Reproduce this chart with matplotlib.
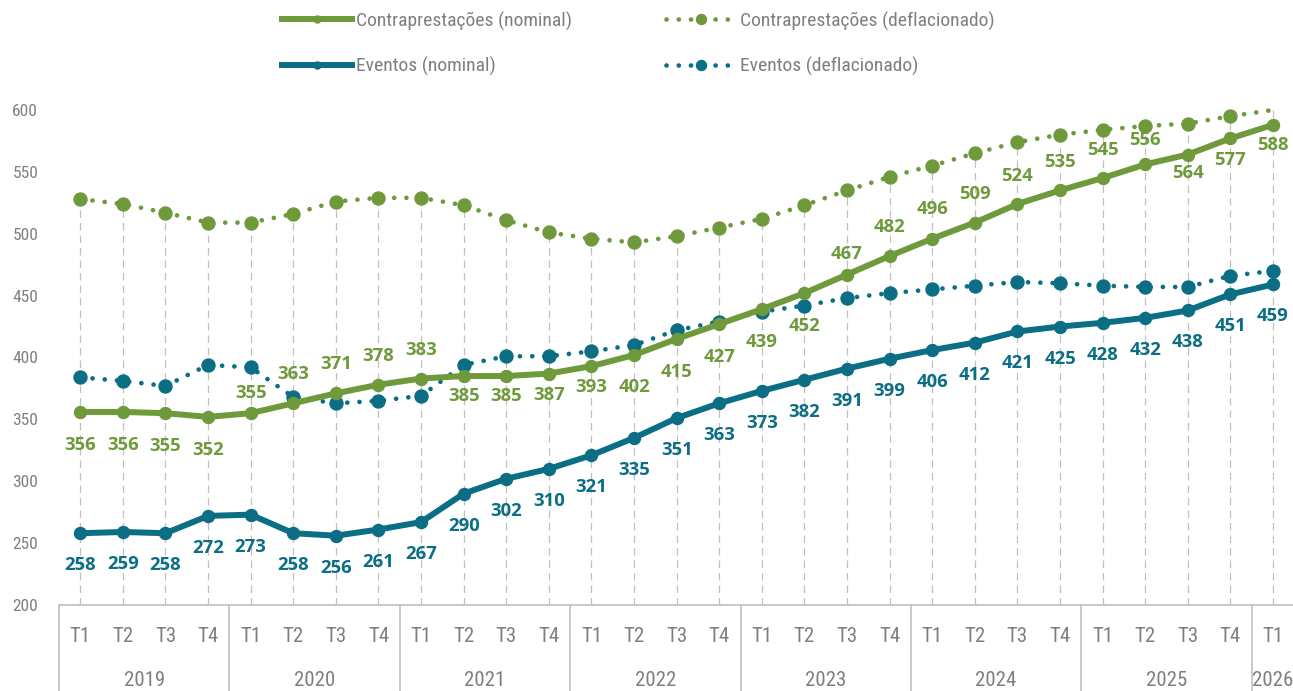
import matplotlib
matplotlib.use("Agg")
import matplotlib.pyplot as plt
from matplotlib import font_manager
from matplotlib.lines import Line2D
from matplotlib.transforms import blended_transform_factory

# ---------------- data ----------------
years = ["2019", "2020", "2021", "2022", "2023", "2024", "2025", "2026"]
quarters = ["T1", "T2", "T3", "T4"]
quarter_labels = [q for y in years[:-1] for q in quarters] + ["T1"]
year_of_point = [y for y in years[:-1] for _ in quarters] + ["2026"]

contra_nominal = [356, 356, 355, 352, 355, 363, 371, 378, 383, 385, 385, 387, 393, 402,
                  415, 427, 439, 452, 467, 482, 496, 509, 524, 535, 545, 556, 564, 577, 588]
contra_deflated = [528, 524, 517, 509, 509, 516, 526, 529, 529, 523, 511, 501, 496, 493,
                   498, 505, 512, 523, 535, 546, 555, 565, 574, 580, 584, 587, 589, 595, 600]
eventos_nominal = [258, 259, 258, 272, 273, 258, 256, 261, 267, 290, 302, 310, 321, 335,
                   351, 363, 373, 382, 391, 399, 406, 412, 421, 425, 428, 432, 438, 451, 459]
eventos_deflated = [384, 381, 377, 394, 392, 368, 363, 365, 369, 394, 401, 401, 405, 410,
                    422, 429, 437, 442, 448, 452, 455, 458, 461, 460, 458, 457, 457, 466, 470]

series_names = ["Contraprestações (nominal)", "Contraprestações (deflacionado)",
                "Eventos (nominal)", "Eventos (deflacionado)"]

# label vertical offsets (pixels, + above / - below) - styling only
contra_label_off = [-33, -33, -33, -33, 20, 29, 29, 29, 29, -20, -20, -21, -21, -32,
                    -33, -33, -33, -33, 21, 29, 30, 29, 28, 28, 28, 24, -18, -22, -20]
eventos_label_off = [-32] * len(eventos_nominal)

# ---------------- style ----------------
GREEN = "#6F9A3B"
TEAL = "#0B6E84"
GRAY_TXT = "#7F7F7F"
GRAY_LINE = "#C0C0C0"

fonts = font_manager.fontManager.ttflist
names = {f.name for f in fonts}
COND = None
COND_STRETCH = "normal"
for cand in ["Liberation Sans Narrow", "Arial Narrow", "Roboto Condensed",
             "Open Sans Condensed", "Noto Sans Condensed"]:
    if cand in names:
        COND = cand
        break
if COND is None:
    for f in fonts:
        if f.name in ("DejaVu Sans", "Noto Sans", "Open Sans", "Roboto") and \
                str(f.stretch) in ("condensed", "semi-condensed", "75", "87.5", "ultra-condensed", "extra-condensed"):
            COND = f.name
            COND_STRETCH = "condensed"
            break
NARROW = COND is not None
if not NARROW:
    COND = "Liberation Sans"
LABEL_FONT = "Open Sans" if "Open Sans" in names else "DejaVu Sans"

CAT_SIZE = 15 if NARROW else 13
LEG_SIZE = 14 if NARROW else 12.8
TICK_SIZE = 12.5

W, H = 1293, 691
fig = plt.figure(figsize=(W / 100, H / 100), dpi=100)
ax_left = 59 / W
ax_bottom = (H - 605) / H
ax_top = (H - 97.6) / H
ax = fig.add_axes([ax_left, ax_bottom, 1 - ax_left, ax_top - ax_bottom])

x = list(range(len(quarter_labels)))
ax.set_xlim(-0.5, 28.47)
ax.set_ylim(200, 610)

# drop lines
ax.vlines(x, 200, contra_deflated, colors=GRAY_LINE, linestyles=(0, (6, 4)),
          linewidth=0.9, zorder=1)

PX = 72 / 100  # points per pixel

dot_style = dict(linestyle=(0, (0.01, 2.6)), dash_capstyle="round", linewidth=4.7 * PX)
ax.plot(x, contra_deflated, color=GREEN, marker="o", markersize=13 * PX,
        markevery=list(range(len(x) - 1)), zorder=3, **dot_style)
ax.plot(x, eventos_deflated, color=TEAL, marker="o", markersize=13 * PX, zorder=3, **dot_style)
ax.plot(x, contra_nominal, color=GREEN, linewidth=6 * PX, marker="o",
        markersize=12 * PX, zorder=4, solid_joinstyle="round")
ax.plot(x, eventos_nominal, color=TEAL, linewidth=6 * PX, marker="o",
        markersize=12 * PX, zorder=4, solid_joinstyle="round")

for xi, v, off in zip(x, contra_nominal, contra_label_off):
    ax.annotate(str(v), (xi, v), xytext=(0, off * PX), textcoords="offset points",
                ha="center", va="center", color=GREEN, fontsize=13.3,
                fontweight="bold", family=LABEL_FONT, zorder=5)
for xi, v, off in zip(x, eventos_nominal, eventos_label_off):
    ax.annotate(str(v), (xi, v), xytext=(0, off * PX), textcoords="offset points",
                ha="center", va="center", color=TEAL, fontsize=13.3,
                fontweight="bold", family=LABEL_FONT, zorder=5)

# axes styling
for s in ["left", "right", "top"]:
    ax.spines[s].set_visible(False)
ax.spines["bottom"].set_color(GRAY_LINE)
ax.spines["bottom"].set_linewidth(1.2)
ax.set_yticks(range(200, 601, 50))
ax.tick_params(axis="y", length=0, pad=15, labelcolor=GRAY_TXT, labelsize=TICK_SIZE)
for lab in ax.get_yticklabels():
    lab.set_family(COND)
    lab.set_stretch(COND_STRETCH)
ax.set_xticks([])

# multi-level category axis
trans = blended_transform_factory(ax.transData, fig.transFigure)
t_y = (H - 637) / H
yr_y = (H - 680) / H
for xi, q in zip(x, quarter_labels):
    ax.text(xi, t_y, q, transform=trans, ha="center", va="center",
            fontsize=CAT_SIZE, color=GRAY_TXT, family=COND, stretch=COND_STRETCH)
for y in years:
    idx = [i for i, yy in enumerate(year_of_point) if yy == y]
    ax.text(sum(idx) / len(idx), yr_y, y, transform=trans, ha="center", va="center",
            fontsize=CAT_SIZE, color=GRAY_TXT, family=COND, stretch=COND_STRETCH)
sep_positions = [-0.5] + [i - 0.5 for i in range(1, len(x)) if year_of_point[i] != year_of_point[i - 1]]
for sx in sep_positions:
    ax.add_line(Line2D([sx, sx], [0, ax_bottom], transform=trans, color=GRAY_LINE,
                       linewidth=1.2, clip_on=False))

# legend (two columns as two legends)
h1 = [Line2D([], [], color=GREEN, linewidth=6 * PX, marker="o", markersize=7 * PX),
      Line2D([], [], color=TEAL, linewidth=6 * PX, marker="o", markersize=7 * PX)]
h2 = [Line2D([], [], color=GREEN, marker="o", markersize=10 * PX, **dot_style),
      Line2D([], [], color=TEAL, marker="o", markersize=10 * PX, **dot_style)]
leg_common = dict(frameon=False, loc="center left", borderpad=0, borderaxespad=0,
                  handletextpad=0.2, labelspacing=1.33, labelcolor=GRAY_TXT,
                  prop={"family": COND, "size": LEG_SIZE, "stretch": COND_STRETCH},
                  handlelength=70 / (LEG_SIZE / PX))
leg1 = fig.legend(h1, [series_names[0], series_names[2]],
                  bbox_to_anchor=(282 / W, (H - 43.5) / H), **leg_common)
leg2 = fig.legend(h2, [series_names[1], series_names[3]],
                  bbox_to_anchor=(666 / W, (H - 43.5) / H), **leg_common)

fig.savefig("out.png", dpi=100)
